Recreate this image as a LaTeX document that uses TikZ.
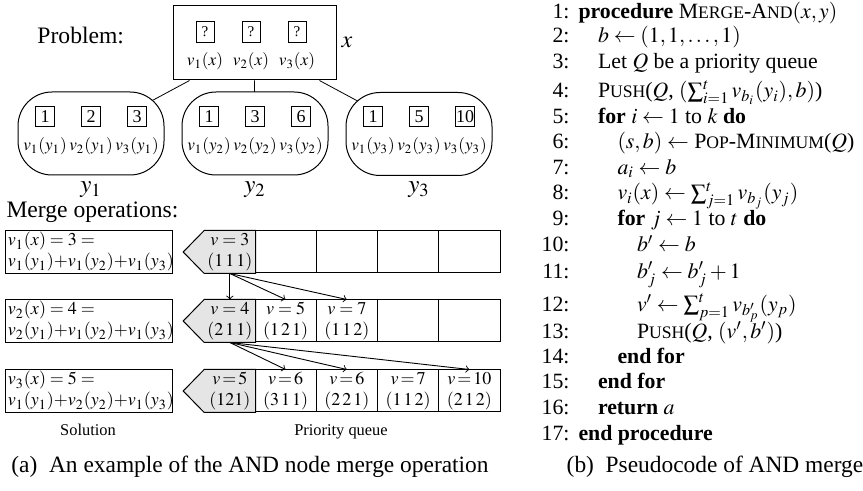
\documentclass[tikz,border=0pt]{standalone}
\usepackage{mathptmx}
\usepackage[no-math]{fontspec}
\setmainfont{Liberation Serif}
\usetikzlibrary{backgrounds,calc}
\newcommand{\smc}[1]{{\fontsize{8.8}{10}\selectfont #1}}
\begin{document}
\begin{tikzpicture}[x=0.5pt,y=-0.5pt,line width=0.5pt,
  qbox/.style={draw, minimum width=9pt, minimum height=10.5pt, inner sep=0pt, font=\fontsize{7.5}{9}\selectfont},
  ibox/.style={draw, minimum width=9.5pt, minimum height=10pt, inner sep=0pt, font=\fontsize{9}{10}\selectfont},
  lbl/.style={inner sep=0pt, anchor=base, font=\fontsize{8.6}{11}\selectfont},
  bubble/.style={draw, fill=white, rounded corners=17pt, minimum width=73pt, minimum height=41.5pt, inner sep=0pt},
  solbox/.style={draw, minimum width=83.5pt, minimum height=21pt, text width=80.5pt, align=left, inner sep=1pt, font=\fontsize{9}{10.5}\selectfont},
  cell/.style={draw, minimum width=30.6pt, minimum height=21pt, inner sep=0pt, align=center, font=\fontsize{9}{10.5}\selectfont},
  headcell/.style={minimum width=25.15pt, minimum height=21pt, inner sep=0pt, align=center, font=\fontsize{9}{10.5}\selectfont},
  headfill/.style={fill=gray!20},
  arr/.style={->, line width=0.45pt},
  lnum/.style={anchor=base east, inner sep=0pt, font=\fontsize{10.9}{13}\selectfont},
  code/.style={anchor=base west, inner sep=0pt, font=\fontsize{10.9}{13}\selectfont},
  bigtxt/.style={inner sep=0pt, font=\fontsize{11.8}{14}\selectfont},
  smalltxt/.style={inner sep=0pt, anchor=base, font=\fontsize{8.2}{10}\selectfont},
  captxt/.style={inner sep=0pt, anchor=base, font=\fontsize{11.7}{14}\selectfont}]
\useasboundingbox (0,0) rectangle (863,491);

% ---------- Problem ----------
\node[bigtxt, anchor=base west] (prob) at (37,44) {Problem:};
\node[draw, minimum width=81.5pt, minimum height=37pt, inner sep=0pt] (xbox) at (254.5,43) {};
\node[qbox] (q1) at (205,32) {?};
\node[qbox] (q2) at (251,32) {?};
\node[qbox] (q3) at (297,32) {?};
\node[lbl] (lx1) at (205,66) {$v_1(x)$};
\node[lbl] (lx2) at (251,66) {$v_2(x)$};
\node[lbl] (lx3) at (297,66) {$v_3(x)$};
\node[inner sep=0pt, anchor=west, font=\fontsize{12}{14}\selectfont] (xl) at (341,42) {$x$};

\node[bubble] (y1) at (91,133.5) {};
\node[bubble] (y2) at (255,133.5) {};
\node[bubble] (y3) at (419,134) {};

\begin{scope}[on background layer]
  \draw (xbox.210) -- (y1.center);
  \draw (xbox.south) -- (y2.center);
  \draw (xbox.330) -- (y3.center);
\end{scope}

\foreach \b/\cx/\va/\vb/\vc in {1/91/1/2/3, 2/255/1/3/6, 3/419/1/5/10}{
  \node[ibox] (b\b1) at (\cx-46,117) {\va};
  \node[ibox] (b\b2) at (\cx,117) {\vb};
  \node[ibox] (b\b3) at (\cx+46,117) {\vc};
  \node[lbl] (l\b1) at (\cx-46,151) {$v_1(y_{\b})$};
  \node[lbl] (l\b2) at (\cx,151) {$v_2(y_{\b})$};
  \node[lbl] (l\b3) at (\cx+46,151) {$v_3(y_{\b})$};
  \node[inner sep=0pt, anchor=base, font=\fontsize{12.5}{14}\selectfont] (yl\b) at (\cx,193) {$y_{\b}$};
}

% ---------- Merge operations ----------
\node[bigtxt, anchor=base west] (merge) at (6,218) {Merge operations:};

\node[solbox] (s1) at (88.5,252) {$v_1(x) = 3 =$\\$v_1(y_1){+}v_1(y_2){+}v_1(y_3)$};
\node[solbox] (s2) at (88.5,321) {$v_2(x) = 4 =$\\$v_2(y_1){+}v_1(y_2){+}v_1(y_3)$};
\node[solbox] (s3) at (88.5,391) {$v_3(x) = 5 =$\\$v_1(y_1){+}v_2(y_2){+}v_1(y_3)$};

% row 1
\node[headcell] (h1) at (229.85,252) {$v = 3$\\$(1\,1\,1)$};
\node[cell] (c12) at (285.6,252) {};
\node[cell] (c13) at (346.9,252) {};
\node[cell] (c14) at (408.1,252) {};
\node[cell] (c15) at (469.4,252) {};
% row 2
\node[headcell] (h2) at (229.85,321) {$v = 4$\\$(2\,1\,1)$};
\node[cell] (c22) at (285.6,321) {$v = 5$\\$(1\,2\,1)$};
\node[cell] (c23) at (346.9,321) {$v = 7$\\$(1\,1\,2)$};
\node[cell] (c24) at (408.1,321) {};
\node[cell] (c25) at (469.4,321) {};
% row 3
\node[headcell] (h3) at (229.85,391) {$v\!=\!5$\\$(121)$};
\node[cell] (c32) at (285.6,391) {$v\!=\!6$\\$(3\,1\,1)$};
\node[cell] (c33) at (346.9,391) {$v\!=\!6$\\$(2\,2\,1)$};
\node[cell] (c34) at (408.1,391) {$v\!=\!7$\\$(1\,1\,2)$};
\node[cell] (c35) at (469.4,391) {$v\!=\!10$\\$(2\,1\,2)$};

\foreach \r in {1,2,3}{
  \begin{scope}[on background layer]
    \fill[headfill] (h\r.north west) -- (h\r.north east) -- (h\r.south east) -- (h\r.south west) -- ($(h\r.west)+(-21,0)$) -- cycle;
  \end{scope}
  \draw (h\r.north west) -- (h\r.north east) -- (h\r.south east) -- (h\r.south west) -- ($(h\r.west)+(-21,0)$) -- cycle;
}

\draw[arr] (h1.south) -- (h2.north);
\draw[arr] (h1.south) -- (c22.north);
\draw[arr] (h1.south) -- (c23.north);
\draw[arr] (h2.south) -- (c32.north);
\draw[arr] (h2.south) -- (c33.north);
\draw[arr] (h2.south) -- (c35.north);

\node[smalltxt] (sol) at (88,436) {Solution};
\node[smalltxt] (pq) at (341,436) {Priority queue};

\node[captxt] (capa) at (250,473) {(a)~~An example of the AND node merge operation};

% ---------- Pseudocode ----------
\foreach \i/\yy/\lev/\txt in {
 1/19/0/{\textbf{procedure} M\smc{ERGE}-A\smc{ND}$(x,y)$},
 2/43/1/{$b \leftarrow (1,1,\ldots,1)$},
 3/68.5/1/{Let $Q$ be a priority queue},
 4/98/1/{P\smc{USH}($Q$, $(\sum_{i=1}^{t} v_{b_i}(y_i),b)$)},
 5/123.5/1/{\textbf{for} $i \leftarrow 1$ to $k$ \textbf{do}},
 6/148.5/2/{$(s,b) \leftarrow$ P\smc{OP}-M\smc{INIMUM}($Q$)},
 7/174.2/2/{$a_i \leftarrow b$},
 8/200/2/{$v_i(x) \leftarrow \sum_{j=1}^{t} v_{b_j}(y_j)$},
 9/225.1/2/{\textbf{for} $j \leftarrow 1$ to $t$ \textbf{do}},
 10/252/3/{$b' \leftarrow b$},
 11/278.9/3/{$b'_j \leftarrow b'_j + 1$},
 12/311.2/3/{$v' \leftarrow \sum_{p=1}^{t} v_{b'_p}(y_p)$},
 13/338.1/3/{P\smc{USH}($Q$, $(v',b')$)},
 14/363.2/2/{\textbf{end for}},
 15/388.3/1/{\textbf{end for}},
 16/414.4/1/{\textbf{return} $a$},
 17/441/0/{\textbf{end procedure}}}{
  \node[lnum] (n\i) at (570,\yy) {\i:};
  \node[code] (t\i) at ({578+19.5*\lev},\yy) {\txt};
}

\node[captxt] (capb) at (715,473) {(b)~~Pseudocode of AND merge};
\end{tikzpicture}
\end{document}
